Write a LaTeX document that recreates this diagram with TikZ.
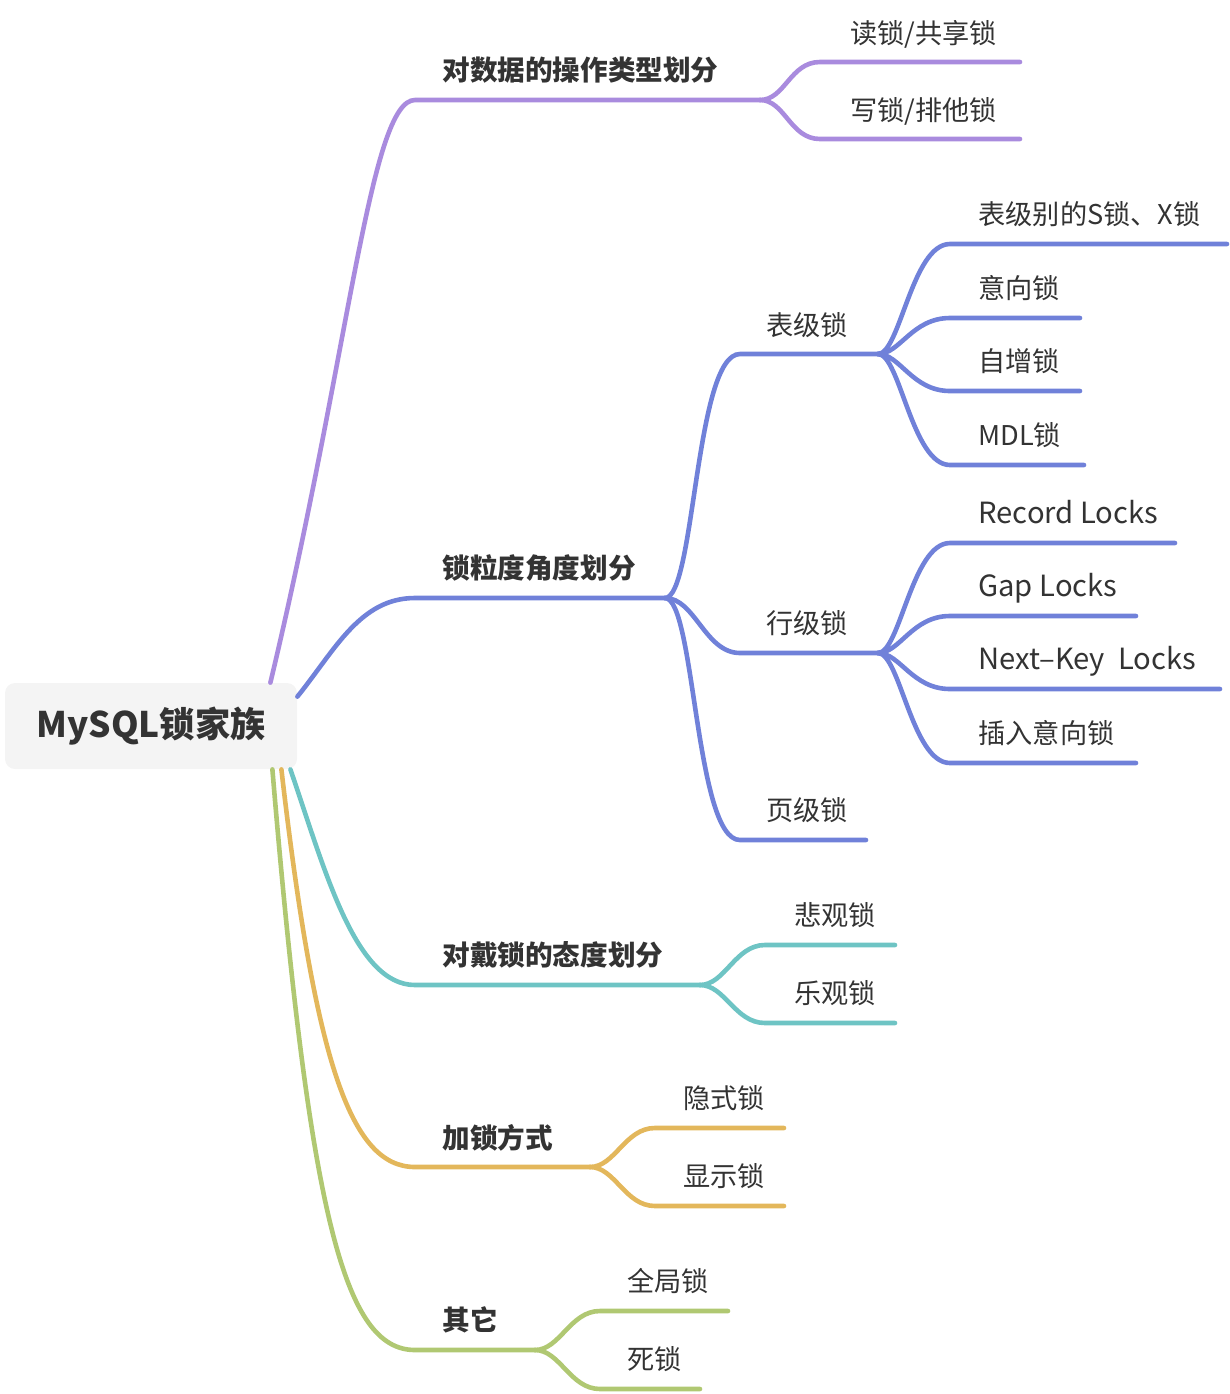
\documentclass[tikz,border=0pt]{standalone}
\usepackage{fontspec}
\setmainfont{Noto Sans CJK SC}
\definecolor{cpurple}{HTML}{A98BDE}
\definecolor{cblue}{HTML}{7081D9}
\definecolor{ccyan}{HTML}{6EC4C4}
\definecolor{corange}{HTML}{E3B75B}
\definecolor{cgreen}{HTML}{B0C872}
\definecolor{ctext}{HTML}{333333}
\definecolor{cbox}{HTML}{F4F4F4}
\begin{document}
\begin{tikzpicture}[x=0.5pt,y=-0.5pt,line cap=round,
	branch/.style={line width=2.3pt},
	rootbox/.style={fill=cbox,rounded corners=5pt,minimum width=146pt,minimum height=43pt,
		inner sep=0,text=ctext,font=\bfseries\fontsize{17.6}{20}\selectfont},
	topic/.style={anchor=base west,inner sep=0,text=ctext,font=\bfseries\fontsize{13.8}{16}\selectfont},
	leaf/.style={anchor=base west,inner sep=0,text=ctext,font=\fontsize{13.6}{16}\selectfont},
	latinleaf/.style={leaf,font=\fontsize{14.6}{17}\selectfont}]
	\useasboundingbox (0,0) rectangle (1230,1394);
	% the root
	\node[rootbox] (root) at (151,726) {MySQL锁家族};
	% by operation type
	\coordinate (ops) at (415,100);
	\coordinate (opf) at (760,100);
	\node[topic] (op) at (442,80) {对数据的操作类型划分};
	\draw[branch,cpurple] ([xshift=-13.5pt]root.north east) .. controls (350,350) and (370,100) .. (ops) -- (opf);
	\node[leaf] (rd) at (850,43) {读锁/共享锁};
	\node[leaf] (wr) at (850,120) {写锁/排他锁};
	\draw[branch,cpurple] (opf) .. controls +(25,0) and +(-30,0) .. (820,62) -- (1020,62);
	\draw[branch,cpurple] (opf) .. controls +(25,0) and +(-30,0) .. (820,139) -- (1020,139);
	% by granularity
	\coordinate (grs) at (415,598);
	\coordinate (grf) at (665,598);
	\node[topic] (gr) at (442,578) {锁粒度角度划分};
	\draw[branch,cblue] ([yshift=-7pt]root.north east) .. controls (335,650) and (360,598) .. (grs) -- (grf);
	\node[leaf] (tb) at (766,335) {表级锁};
	\node[leaf] (rw) at (766,633) {行级锁};
	\node[leaf] (pg) at (766,820) {页级锁};
	\coordinate (tbf) at (878,354);
	\coordinate (rwf) at (878,653);
	\draw[branch,cblue] (grf) .. controls +(30,0) and +(-45,0) .. (740,354) -- (tbf);
	\draw[branch,cblue] (grf) .. controls +(30,0) and +(-35,0) .. (740,653) -- (rwf);
	\draw[branch,cblue] (grf) .. controls +(30,0) and +(-45,0) .. (740,840) -- (866,840);
	% table level
	\node[leaf] (tsx) at (978,224) {表级别的S锁、X锁};
	\node[leaf] (tin) at (978,298) {意向锁};
	\node[leaf] (tai) at (978,371) {自增锁};
	\node[leaf] (tmd) at (978,445) {MDL锁};
	\draw[branch,cblue] (tbf) .. controls +(22,0) and +(-38,0) .. (950,244) -- (1227,244);
	\draw[branch,cblue] (tbf) .. controls +(22,0) and +(-38,0) .. (950,318) -- (1080,318);
	\draw[branch,cblue] (tbf) .. controls +(22,0) and +(-38,0) .. (950,391) -- (1080,391);
	\draw[branch,cblue] (tbf) .. controls +(22,0) and +(-38,0) .. (950,465) -- (1084,465);
	% row level
	\node[latinleaf] (rrc) at (978,523) {Record Locks};
	\node[latinleaf] (rgp) at (978,596) {Gap Locks};
	\node[latinleaf] (rnk) at (978,669) {Next–Key\ \ Locks};
	\node[leaf] (rii) at (978,743) {插入意向锁};
	\draw[branch,cblue] (rwf) .. controls +(22,0) and +(-38,0) .. (950,543) -- (1175,543);
	\draw[branch,cblue] (rwf) .. controls +(22,0) and +(-38,0) .. (950,616) -- (1136,616);
	\draw[branch,cblue] (rwf) .. controls +(22,0) and +(-38,0) .. (950,689) -- (1220,689);
	\draw[branch,cblue] (rwf) .. controls +(22,0) and +(-38,0) .. (950,763) -- (1136,763);
	% by attitude
	\coordinate (ats) at (415,985);
	\coordinate (atf) at (700,985);
	\node[topic] (at) at (442,965) {对戴锁的态度划分};
	\draw[branch,ccyan] ([xshift=-3.5pt]root.south east) .. controls (325,870) and (355,985) .. (ats) -- (atf);
	\node[leaf] (pes) at (794,925) {悲观锁};
	\node[leaf] (opt) at (794,1003) {乐观锁};
	\draw[branch,ccyan] (atf) .. controls +(25,0) and +(-30,0) .. (765,945) -- (895,945);
	\draw[branch,ccyan] (atf) .. controls +(25,0) and +(-30,0) .. (765,1023) -- (895,1023);
	% by locking way
	\coordinate (wys) at (415,1167);
	\coordinate (wyf) at (590,1167);
	\node[topic] (wy) at (442,1148) {加锁方式};
	\draw[branch,corange] ([xshift=-8pt]root.south east) .. controls (315,1060) and (350,1167) .. (wys) -- (wyf);
	\node[leaf] (imp) at (683,1108) {隐式锁};
	\node[leaf] (exp) at (683,1186) {显示锁};
	\draw[branch,corange] (wyf) .. controls +(25,0) and +(-30,0) .. (655,1128) -- (784,1128);
	\draw[branch,corange] (wyf) .. controls +(25,0) and +(-30,0) .. (655,1206) -- (784,1206);
	% others
	\coordinate (ots) at (415,1350);
	\coordinate (otf) at (535,1350);
	\node[topic] (ot) at (442,1330) {其它};
	\draw[branch,cgreen] ([xshift=-12.5pt]root.south east) .. controls (310,1220) and (345,1350) .. (ots) -- (otf);
	\node[leaf] (glb) at (627,1291) {全局锁};
	\node[leaf] (dead) at (627,1369) {死锁};
	\draw[branch,cgreen] (otf) .. controls +(25,0) and +(-30,0) .. (600,1311) -- (728,1311);
	\draw[branch,cgreen] (otf) .. controls +(25,0) and +(-30,0) .. (600,1389) -- (700,1389);
\end{tikzpicture}
\end{document}
